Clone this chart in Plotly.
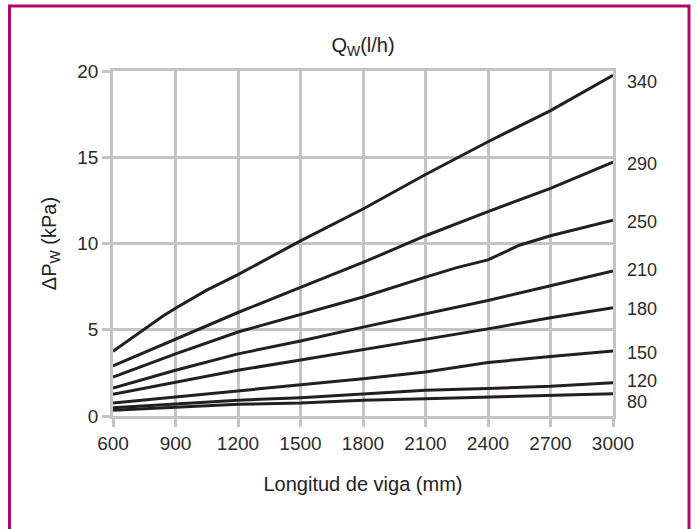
import plotly.graph_objects as go

# ---- data ----
flows = ["340", "290", "250", "210", "180", "150", "120", "80"]
x_common = [600, 900, 1200, 1500, 1800, 2100, 2400, 2700, 3000]

q340_x = [600, 840, 900, 1050, 1200, 1500, 1800, 2100, 2400, 2700, 3000]
q340_y = [3.75, 5.8, 6.25, 7.3, 8.2, 10.15, 12.0, 14.0, 15.9, 17.7, 19.75]

q290_y = [2.9, 4.45, 6.0, 7.46, 8.9, 10.45, 11.85, 13.2, 14.72]

q250_x = [600, 900, 1200, 1500, 1800, 2100, 2250, 2400, 2550, 2700, 3000]
q250_y = [2.26, 3.6, 4.87, 5.9, 6.9, 8.05, 8.6, 9.05, 9.9, 10.45, 11.35]

q210_y = [1.62, 2.65, 3.6, 4.35, 5.15, 5.93, 6.7, 7.55, 8.41]
q180_y = [1.26, 1.97, 2.65, 3.25, 3.85, 4.43, 5.05, 5.7, 6.28]
q150_y = [0.75, 1.1, 1.48, 1.84, 2.16, 2.55, 3.1, 3.45, 3.77]
q120_y = [0.48, 0.72, 0.92, 1.06, 1.29, 1.49, 1.6, 1.72, 1.93]
q80_y = [0.33, 0.52, 0.68, 0.75, 0.91, 1.0, 1.1, 1.2, 1.29]

series = [
    (q340_x, q340_y),
    (x_common, q290_y),
    (q250_x, q250_y),
    (x_common, q210_y),
    (x_common, q180_y),
    (x_common, q150_y),
    (x_common, q120_y),
    (x_common, q80_y),
]

x_ticks = [600, 900, 1200, 1500, 1800, 2100, 2400, 2700, 3000]
y_ticks = [0, 5, 10, 15, 20]

# ---- layout constants ----
W, H = 696, 529
L, R, T, B = 113, 613, 71, 416
FONT = "Liberation Sans, Arial, Helvetica, sans-serif"
GRID = "#c4c4c4"
LINE = "#231f20"
TXT = "#2b2b2b"
FS_TICK = 19
FS_TITLE = 20
FS_LABEL = 18

def px_to_paper_x(px):
    return (px - L) / (R - L)

def px_to_paper_y(py):
    return (B - py) / (B - T)

fig = go.Figure()
for (xs, ys) in series:
    fig.add_trace(go.Scatter(x=xs, y=ys, mode="lines",
                             line=dict(color=LINE, width=3),
                             showlegend=False, hoverinfo="skip"))

# right-hand flow labels (placed at each line end; bottom two spread apart to avoid overlap)
label_shift = [-0.4, -0.1, -0.1, 0.08, -0.1, -0.12, 0.12, -0.5]
for (xs, ys), name, dy in zip(series, flows, label_shift):
    fig.add_annotation(x=1, xref="paper", y=ys[-1] + dy, yref="y",
                       text=name, showarrow=False, xanchor="left",
                       xshift=12, font=dict(family=FONT, size=FS_LABEL, color=TXT))

# magenta frame
fig.add_shape(type="rect", xref="paper", yref="paper",
              x0=px_to_paper_x(9.5), x1=px_to_paper_x(689),
              y0=px_to_paper_y(560), y1=px_to_paper_y(6),
              line=dict(color="#b0076b", width=3), layer="below")

fig.update_layout(
    width=W, height=H,
    margin=dict(l=L, r=W - R, t=T, b=H - B),
    paper_bgcolor="white", plot_bgcolor="white",
    font=dict(family=FONT, size=FS_TICK, color=TXT),
    title=dict(text="Q<sub>W</sub>(l/h)", x=px_to_paper_x(363), xref="paper",
               xanchor="center", y=1 - 45 / H, yref="container",
               yanchor="middle", font=dict(family=FONT, size=FS_TITLE, color="#222")),
)

fig.update_xaxes(range=[600, 3000], tickvals=x_ticks, ticktext=[str(v) for v in x_ticks],
                 showgrid=True, gridcolor=GRID, gridwidth=2.5,
                 showline=True, linecolor=GRID, linewidth=2.5, mirror=True,
                 zeroline=False, ticks="outside", ticklen=8, tickwidth=2.5, tickcolor=GRID,
                 tickfont=dict(family=FONT, size=FS_TICK, color=TXT),
                 title=dict(text="Longitud de viga (mm)", standoff=25,
                            font=dict(family=FONT, size=FS_TITLE, color="#222")))
fig.update_yaxes(range=[0, 20], tickvals=y_ticks, ticktext=[str(v) for v in y_ticks],
                 showgrid=True, gridcolor=GRID, gridwidth=2.5,
                 showline=True, linecolor=GRID, linewidth=2.5, mirror=True,
                 zeroline=False, ticks="outside", ticklen=8, tickwidth=2.5, tickcolor=GRID,
                 tickfont=dict(family=FONT, size=FS_TICK, color=TXT),
                 title=dict(text="ΔP<sub>W</sub> (kPa)", standoff=16,
                            font=dict(family=FONT, size=FS_TITLE, color="#222")))

fig.write_html("out.html")
